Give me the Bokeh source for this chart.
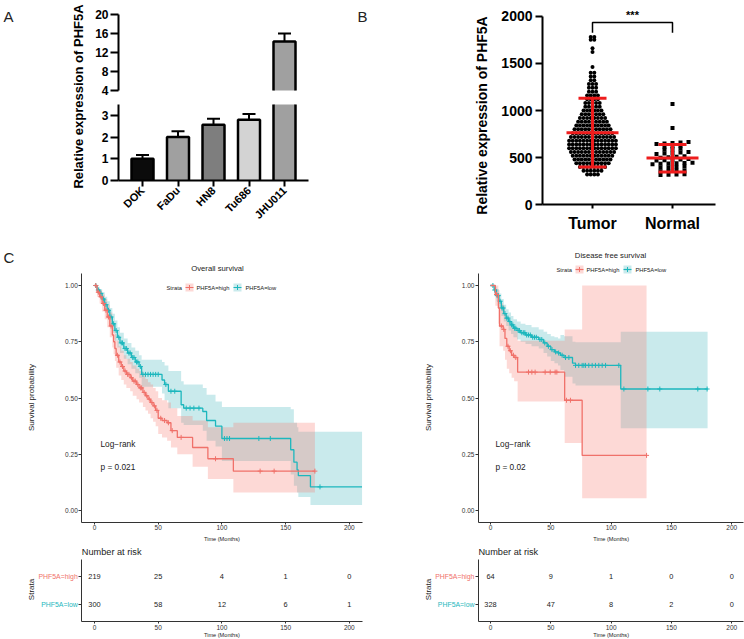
import numpy as np
from bokeh.plotting import figure
from bokeh.models import (FixedTicker, Range1d, CustomJSTickFormatter, NumeralTickFormatter)
from bokeh.layouts import row, column
from bokeh.embed import file_html
from bokeh.resources import INLINE
from bokeh.core.properties import value

FONT = "Liberation Sans"

# ======================= DATA =======================
# ---- Panel A: qPCR of PHF5A in cell lines ----
cell_lines = ["DOK", "FaDu", "HN8", "Tu686", "JHU011"]
rel_expr = [1.0, 2.0, 2.57, 2.8, 14.3]
rel_expr_sd = [0.18, 0.27, 0.28, 0.26, 1.7]
bar_fill = ["#0b0b0b", "#a0a0a0", "#7e7e7e", "#d3d3d3", "#a0a0a0"]
a_yticks = [0, 1, 2, 3, 4, 8, 12, 16, 20]

# ---- Panel B: expression, Tumor vs Normal ----
groups = ["Tumor", "Normal"]
tumor_levels = [320, 360, 400, 440, 480, 520, 560, 600, 640, 680, 720, 760, 800, 840,
                880, 920, 960, 1000, 1040, 1080, 1120, 1160, 1200, 1240, 1280, 1320,
                1360, 1400, 1460, 1620, 1660, 1750, 1780]
tumor_counts = [4, 6, 8, 10, 11, 12, 13, 14, 14, 14, 13, 12, 11, 10,
                9, 8, 7, 6, 5, 5, 4, 4, 3, 3, 3, 2,
                2, 2, 1, 1, 1, 2, 2]
tumor_mean, tumor_sd_low, tumor_sd_high = 765, 400, 1130
normal_values = [1070, 815, 665, 660, 655, 650, 645, 625, 620, 615, 595, 590, 585,
                 560, 555, 550, 545, 540, 515, 510, 505, 500, 485, 480, 478, 472, 470,
                 445, 442, 440, 438, 435, 430, 405, 400, 398, 395, 365, 362, 358, 355,
                 325, 322, 318, 315]
normal_mean, normal_sd_low, normal_sd_high = 495, 348, 640
b_yticks = [0, 500, 1000, 1500, 2000]
sig_label = "***"

# ---- Panel C: Kaplan-Meier, overall survival ----
os_high_t = [0, 2, 4, 6, 8, 10, 12, 14, 15, 16, 17, 19, 21, 23, 25, 28, 30, 33, 35, 38,
             40, 42, 44, 46, 48, 50, 53, 57, 60, 65, 77, 89, 109]
os_high_s = [1.0, 0.97, 0.95, 0.92, 0.89, 0.86, 0.82, 0.78, 0.75, 0.72, 0.69, 0.66, 0.64,
             0.62, 0.605, 0.59, 0.575, 0.56, 0.545, 0.525, 0.51, 0.495, 0.48, 0.465, 0.445,
             0.41, 0.40, 0.39, 0.355, 0.325, 0.28, 0.23, 0.175]
os_high_lo = [1.0, 0.95, 0.92, 0.885, 0.85, 0.815, 0.77, 0.725, 0.695, 0.665, 0.635, 0.60,
              0.58, 0.56, 0.545, 0.53, 0.51, 0.495, 0.48, 0.46, 0.445, 0.43, 0.41, 0.395,
              0.375, 0.34, 0.325, 0.31, 0.28, 0.25, 0.195, 0.14, 0.08]
os_high_up = [1.0, 0.99, 0.98, 0.96, 0.94, 0.915, 0.88, 0.84, 0.815, 0.785, 0.755, 0.73,
              0.71, 0.69, 0.675, 0.66, 0.645, 0.63, 0.62, 0.60, 0.585, 0.57, 0.56, 0.545,
              0.53, 0.50, 0.49, 0.48, 0.455, 0.42, 0.40, 0.37, 0.39]
os_high_end = 173
os_high_cens = [1, 3, 5, 7, 9, 11, 13, 18, 20, 22, 24, 26, 27, 29, 31, 32, 34, 36, 37, 39,
                41, 43, 45, 47, 49, 52, 55, 58, 61, 68, 95, 130, 141, 173]

os_low_t = [0, 2, 4, 6, 8, 10, 12, 14, 16, 18, 20, 23, 26, 29, 32, 35, 37, 53, 55, 58,
            68, 70, 85, 88, 95, 100, 154, 156.5, 159, 160, 169.5]
os_low_s = [1.0, 0.98, 0.965, 0.94, 0.915, 0.89, 0.86, 0.83, 0.80, 0.77, 0.745, 0.72, 0.70,
            0.68, 0.66, 0.64, 0.605, 0.58, 0.56, 0.53, 0.47, 0.455, 0.44, 0.40, 0.375, 0.32,
            0.27, 0.215, 0.18, 0.155, 0.105]
os_low_lo = [1.0, 0.965, 0.945, 0.915, 0.885, 0.855, 0.82, 0.79, 0.755, 0.725, 0.70, 0.675,
             0.65, 0.63, 0.61, 0.59, 0.55, 0.52, 0.49, 0.455, 0.39, 0.38, 0.355, 0.31, 0.285,
             0.22, 0.16, 0.11, 0.08, 0.06, 0.025]
os_low_up = [1.0, 0.995, 0.985, 0.97, 0.95, 0.93, 0.90, 0.875, 0.845, 0.815, 0.79, 0.765,
             0.745, 0.725, 0.71, 0.69, 0.67, 0.66, 0.645, 0.62, 0.575, 0.56, 0.545, 0.515,
             0.485, 0.46, 0.45, 0.39, 0.37, 0.35, 0.35]
os_low_end = 210
os_low_cens = [1, 3, 5, 7, 9, 11, 13, 15, 17, 19, 21, 22, 24, 25, 27, 28, 30, 31, 33, 34,
               36, 38, 40, 42, 44, 46, 48, 50, 56, 60, 63, 72, 75, 78, 82, 102, 104, 106,
               129, 138, 177]
os_pval = "p = 0.021"

# ---- Panel C: Kaplan-Meier, disease free survival ----
dfs_high_t = [0, 4, 6.5, 7.5, 10.5, 12, 13.5, 15.5, 17.5, 19.6, 22.5, 61.5, 76]
dfs_high_s = [1.0, 0.96, 0.90, 0.82, 0.805, 0.765, 0.73, 0.71, 0.69, 0.68, 0.615, 0.49, 0.245]
dfs_high_lo = [1.0, 0.91, 0.83, 0.73, 0.71, 0.67, 0.63, 0.61, 0.59, 0.575, 0.485, 0.30, 0.055]
dfs_high_up = [1.0, 1.0, 0.98, 0.92, 0.91, 0.875, 0.845, 0.83, 0.81, 0.80, 0.755, 0.805, 1.0]
dfs_high_end = 129.4
dfs_high_cens = [5, 9, 11, 14.5, 16.5, 19, 21, 31.5, 34.3, 37, 45.3, 49.5, 53.6, 55, 63,
                 66.3, 129.4]

dfs_low_t = [0, 3, 5, 7, 9, 11, 13, 15, 17, 19, 22, 25, 29, 34, 40, 44, 47, 50, 53, 56,
             58, 61, 68, 70.5, 108]
dfs_low_s = [1.0, 0.98, 0.955, 0.93, 0.90, 0.875, 0.855, 0.84, 0.825, 0.81, 0.80, 0.79,
             0.78, 0.77, 0.76, 0.745, 0.73, 0.715, 0.705, 0.70, 0.69, 0.68, 0.655, 0.645, 0.54]
dfs_low_lo = [1.0, 0.965, 0.93, 0.90, 0.865, 0.84, 0.82, 0.80, 0.785, 0.77, 0.76, 0.75,
              0.74, 0.73, 0.72, 0.70, 0.685, 0.665, 0.655, 0.645, 0.625, 0.595, 0.565,
              0.556, 0.366]
dfs_low_up = [1.0, 0.995, 0.985, 0.965, 0.94, 0.915, 0.895, 0.88, 0.865, 0.85, 0.84, 0.83,
              0.825, 0.815, 0.805, 0.795, 0.785, 0.775, 0.77, 0.765, 0.78, 0.775, 0.75,
              0.748, 0.795]
dfs_low_end = 180
dfs_low_cens = [2, 3.5, 5.5, 6.5, 8, 9.5, 10.5, 12, 13.5, 14.5, 16, 17.5, 18.5, 20, 21, 23,
                24, 26, 27.5, 28.5, 30, 31.5, 33, 35, 36.5, 38, 41, 42.5, 45, 48, 51, 54,
                56.5, 59.4, 62.2, 65, 70.5, 73.2, 76, 77.4, 78.8, 81.5, 84.3, 87, 89.8,
                92.6, 95.4, 106.4, 110.6, 130.5, 140.4, 171.9, 179.6]
dfs_pval = "p = 0.02"

# ---- Risk tables ----
risk_times = [0, 50, 100, 150, 200]
os_risk_high = [219, 25, 4, 1, 0]
os_risk_low = [300, 58, 12, 6, 1]
dfs_risk_high = [64, 9, 1, 0, 0]
dfs_risk_low = [328, 47, 8, 2, 0]
strata_names = ["PHF5A=high", "PHF5A=low"]

RED = "#F0716A"
CYAN = "#1DB7BD"
RED_BAND = "#F8766D"
CYAN_BAND = "#3CB4BC"
SD_RED = "#ee1c1c"
TXT = "#222222"


# ======================= HELPERS =======================
class Canvas:
    """Maps page pixels to data units; the frame covers the whole canvas."""

    def __init__(self, ox, oy, w, h, xref, xval, sx, yref, yval, sy):
        self.ox, self.oy, self.w, self.h, self.sx, self.sy = ox, oy, w, h, sx, sy
        self.x0 = xval - (xref - ox) / sx
        self.x1 = self.x0 + w / sx
        self.y1 = yval + (yref - oy) / sy
        self.y0 = self.y1 - h / sy

    def fx(self, ref):
        return self.x0 + (ref - self.ox) / self.sx

    def fy(self, ref):
        return self.y1 - (ref - self.oy) / self.sy

    def figure(self):
        p = figure(width=self.w, height=self.h, x_range=Range1d(self.x0, self.x1),
                   y_range=Range1d(self.y0, self.y1), min_border=0,
                   output_backend="svg", toolbar_location=None)
        p.xgrid.visible = False
        p.ygrid.visible = False
        p.outline_line_color = None
        p.background_fill_color = "white"
        p.border_fill_color = "white"
        return p


def put_text(p, x, y, txt, size, color=TXT, align="left", baseline="middle", bold=False,
             angle=0.0):
    p.text(x=[x], y=[y], text=[txt], text_font=value(FONT), text_font_size=f"{size}px",
           text_color=color, text_align=align, text_baseline=baseline,
           text_font_style="bold" if bold else "normal", angle=angle)


def style_axis(ax, line_w, tick_out, tick_w, standoff, size, bold, color):
    ax.axis_line_width = line_w
    ax.axis_line_color = color
    ax.major_tick_line_color = color
    ax.major_tick_line_width = tick_w
    ax.major_tick_in = 0
    ax.major_tick_out = tick_out
    ax.minor_tick_line_color = None
    ax.major_label_standoff = standoff
    ax.major_label_text_font = FONT
    ax.major_label_text_font_size = f"{size}px"
    ax.major_label_text_font_style = "bold" if bold else "normal"
    ax.major_label_text_color = color


# ======================= PANEL A =======================
cA = Canvas(0, 0, 378, 232, 142, 1.0, 35.5, 180, 0.0, 21.7)
BRK_LO, BRK_HI, BRK_GAP, BRK_SCALE = 3.5, 4.0, 0.645, 0.219


def ya(v):
    v = np.asarray(v, dtype=float)
    return np.where(v <= BRK_LO, v,
                    np.where(v >= BRK_HI, BRK_LO + BRK_GAP + (v - BRK_HI) * BRK_SCALE,
                             BRK_LO + BRK_GAP / 2))


pA = cA.figure()
bw = 22 / cA.sx
xs = np.arange(1, len(cell_lines) + 1)
q_l, q_r, q_b, q_t, fills = [], [], [], [], []
out_x, out_y = [], []
for xc, m, col in zip(xs, rel_expr, bar_fill):
    l, r = xc - bw / 2, xc + bw / 2
    if m <= BRK_LO:
        q_l.append(l); q_r.append(r); q_b.append(0); q_t.append(m); fills.append(col)
        out_x.append([l, l, r, r]); out_y.append([0, m, m, 0])
    else:
        y4, ym = float(ya(BRK_HI)), float(ya(m))
        q_l += [l, l]; q_r += [r, r]; q_b += [0, y4]; q_t += [BRK_LO, ym]
        fills += [col, col]
        out_x += [[l, l], [r, r], [l, l, r, r]]
        out_y += [[0, BRK_LO], [0, BRK_LO], [y4, ym, ym, y4]]
pA.quad(left=q_l, right=q_r, bottom=q_b, top=q_t, fill_color=fills, line_color=None)
pA.multi_line(xs=out_x, ys=out_y, line_color="black", line_width=2.5)

cap = 13 / cA.sx
top_v = ya(np.array(rel_expr))
err_v = ya(np.array(rel_expr) + np.array(rel_expr_sd))
pA.segment(x0=xs, y0=top_v, x1=xs, y1=err_v, line_color="black", line_width=2)
pA.segment(x0=xs - cap / 2, y0=err_v, x1=xs + cap / 2, y1=err_v, line_color="black",
           line_width=2)

a_axis_x = cA.fx(118)
pA.segment(x0=[a_axis_x, a_axis_x], y0=[0, float(ya(BRK_HI))], x1=[a_axis_x, a_axis_x],
           y1=[BRK_LO, float(ya(a_yticks[-1]))], line_color="black", line_width=2)

pA.yaxis.fixed_location = a_axis_x
pA.yaxis.bounds = (0, float(ya(a_yticks[-1])))
pA.yaxis.ticker = FixedTicker(ticks=[float(t) for t in ya(a_yticks)])
pA.yaxis.formatter = CustomJSTickFormatter(
    args=dict(lo=BRK_LO, hi=BRK_HI, gap=BRK_GAP, sc=BRK_SCALE),
    code="const v = tick <= lo + 1e-6 ? tick : hi + (tick - lo - gap) / sc;"
         "return Math.round(v).toString();")
style_axis(pA.yaxis, 2, 8, 2, 2, 12, True, "black")
pA.yaxis.axis_line_color = None

pA.xaxis.fixed_location = 0
pA.xaxis.bounds = (cA.fx(118), cA.fx(308))
pA.xaxis.ticker = FixedTicker(ticks=list(xs))
pA.xaxis.major_label_overrides = {int(i): n for i, n in zip(xs, cell_lines)}
pA.xaxis.major_label_orientation = np.pi / 4
style_axis(pA.xaxis, 2, 6, 2, 2, 11, True, "black")

put_text(pA, cA.fx(78), cA.fy(96), "Relative expression of PHF5A", 13, color="black",
         align="center", bold=True, angle=np.pi / 2)
put_text(pA, cA.fx(3), cA.fy(15.5), "A", 15)
put_text(pA, cA.fx(357), cA.fy(15.5), "B", 15)

# ======================= PANEL B =======================
cB = Canvas(378, 0, 366, 232, 592, 1.0, 80.0, 204.3, 0.0, 0.0943)
pB = cB.figure()

dxT = 3.6 / cB.sx
tx, ty = [], []
for lvl, n in zip(tumor_levels, tumor_counts):
    for i in range(n):
        tx.append(1 + (i - (n - 1) / 2) * dxT)
        ty.append(lvl)
pB.scatter(x=tx, y=ty, marker="circle", size=4, fill_color="black", line_color=None)

dxN = 8.0 / cB.sx
rows_n = []
for v in sorted(normal_values):
    if rows_n and v - rows_n[-1][0] < 25:
        rows_n[-1].append(v)
    else:
        rows_n.append([v])
nx, ny = [], []
for rw in rows_n:
    n = len(rw)
    for i, v in enumerate(rw):
        nx.append(2 + (i - (n - 1) / 2) * dxN)
        ny.append(v)
pB.scatter(x=nx, y=ny, marker="square", size=4, fill_color="black", line_color=None)

half_m = 26 / cB.sx
half_c = 14 / cB.sx
for xc, m, lo, hi in [(1, tumor_mean, tumor_sd_low, tumor_sd_high),
                      (2, normal_mean, normal_sd_low, normal_sd_high)]:
    pB.segment(x0=[xc - half_m, xc - half_c, xc - half_c, xc], y0=[m, lo, hi, lo],
               x1=[xc + half_m, xc + half_c, xc + half_c, xc], y1=[m, lo, hi, hi],
               line_color=SD_RED, line_width=3)

pB.line(x=[1, 1, 2, 2], y=[1824, 1933, 1933, 1824], line_color="black", line_width=1.5)
put_text(pB, 1.5, 2010, sig_label, 11, color="black", align="center", bold=True)

pB.yaxis.fixed_location = cB.fx(542)
pB.yaxis.bounds = (b_yticks[0], b_yticks[-1])
pB.yaxis.ticker = FixedTicker(ticks=b_yticks)
style_axis(pB.yaxis, 2, 7, 2, 3, 14, True, "black")
pB.xaxis.fixed_location = 0
pB.xaxis.bounds = (cB.fx(542), cB.fx(715))
pB.xaxis.ticker = FixedTicker(ticks=[1, 2])
pB.xaxis.major_label_overrides = {1: groups[0], 2: groups[1]}
style_axis(pB.xaxis, 2, 4, 2, 6, 16, True, "black")
put_text(pB, cB.fx(481), cB.fy(115), "Relative expression of PHF5A", 14, color="black",
         align="center", bold=True, angle=np.pi / 2)

# ======================= PANEL C =======================
KM_Y0, KM_Y1 = -0.053, 1.053


def step_lookup(t, s, tc):
    idx = np.searchsorted(np.asarray(t, float), np.asarray(tc, float), side="right") - 1
    return np.asarray(s, float)[idx]


def km_figure(cv, title, title_ref, legend_ref, legend_start, text_left, curves, pval,
              letter):
    p = cv.figure()
    for c in curves[::-1]:
        tt = list(c["t"]) + [c["end"]]
        p.varea_step(x=tt, y1=list(c["lo"]) + [c["lo"][-1]],
                     y2=list(c["up"]) + [c["up"][-1]], step_mode="after",
                     fill_color=c["band"], fill_alpha=0.28)
    for c in curves[::-1]:
        tt = list(c["t"]) + [c["end"]]
        ss = list(c["s"]) + [c["s"][-1]]
        p.step(x=tt, y=ss, mode="after", line_color=c["color"], line_width=1.3)
        cs = step_lookup(c["t"], c["s"], c["cens"])
        p.scatter(x=c["cens"], y=cs, marker="cross", size=5, line_color=c["color"],
                  line_width=1)

    put_text(p, cv.fx(title_ref[0]), cv.fy(title_ref[1]), title, 7.7, align="center")
    ly = cv.fy(legend_ref)
    put_text(p, cv.fx(legend_start), ly, "Strata", 5.8)
    for (k_off, t_off), c, name in zip([(23, 30), (71, 79)], curves, strata_names):
        kx = cv.fx(legend_start + k_off)
        p.rect(x=[kx], y=[ly], width=8, height=8, width_units="screen",
               height_units="screen", fill_color=c["band"], fill_alpha=0.28,
               line_color=None)
        p.segment(x0=[cv.fx(legend_start + k_off - 4)], y0=[ly],
                  x1=[cv.fx(legend_start + k_off + 4)], y1=[ly],
                  line_color=c["color"], line_width=1.2)
        p.scatter(x=[kx], y=[ly], marker="cross", size=5, line_color=c["color"],
                  line_width=1)
        put_text(p, cv.fx(legend_start + t_off), ly, name, 5.8)

    put_text(p, cv.fx(text_left), cv.fy(443), "Log\u2212rank", 8.3)
    put_text(p, cv.fx(text_left), cv.fy(466), pval, 8.3)

    p.yaxis.fixed_location = -10
    p.yaxis.bounds = (KM_Y0, KM_Y1)
    p.yaxis.ticker = FixedTicker(ticks=[0, 0.25, 0.5, 0.75, 1.0])
    p.yaxis.formatter = NumeralTickFormatter(format="0.00")
    style_axis(p.yaxis, 1, 3, 1, 1, 6.5, False, "#333333")
    p.xaxis.fixed_location = KM_Y0
    p.xaxis.bounds = (-10, 210)
    p.xaxis.ticker = FixedTicker(ticks=risk_times)
    style_axis(p.xaxis, 1, 2, 1, 1, 6.5, False, "#333333")

    axis_px = cv.ox + (-10 - cv.x0) * cv.sx
    put_text(p, cv.fx(axis_px - 50), cv.fy(397), "Survival probability", 8,
             align="center", angle=np.pi / 2)
    put_text(p, 100, cv.fy(538), "Time (Months)", 5.6, align="center")
    if letter:
        put_text(p, cv.fx(3), cv.fy(257), letter, 15)
    return p


def risk_figure(cv, high, low):
    p = cv.figure()
    xs_r = risk_times + risk_times
    ys_r = [2] * len(risk_times) + [1] * len(risk_times)
    txt = [str(v) for v in high] + [str(v) for v in low]
    p.text(x=xs_r, y=ys_r, text=txt, text_font=value(FONT), text_font_size="7.4px",
           text_align="center", text_baseline="middle", text_color=TXT)

    axis_px = cv.ox + (-10 - cv.x0) * cv.sx
    p.yaxis.fixed_location = -10
    p.yaxis.bounds = (cv.fy(621), cv.fy(559))
    p.yaxis.ticker = FixedTicker(ticks=[1, 2])
    p.yaxis.major_label_overrides = {1: "", 2: ""}
    style_axis(p.yaxis, 1, 3, 1, 1, 6.5, False, "#333333")
    p.xaxis.fixed_location = cv.fy(621)
    p.xaxis.bounds = (-10, 210)
    p.xaxis.ticker = FixedTicker(ticks=risk_times)
    style_axis(p.xaxis, 1, 2, 1, 1, 6.5, False, "#333333")

    for yv, name, col in [(2, strata_names[0], RED), (1, strata_names[1], CYAN)]:
        put_text(p, cv.fx(axis_px - 4), yv, name, 6.9, color=col, align="right")
    put_text(p, cv.fx(axis_px - 50), cv.fy(589), "Strata", 8, align="center",
             angle=np.pi / 2)
    put_text(p, cv.fx(axis_px), cv.fy(551), "Number at risk", 9.2)
    put_text(p, 100, cv.fy(634), "Time (Months)", 5.6, align="center")
    return p


os_curves = [
    dict(t=os_high_t, s=os_high_s, lo=os_high_lo, up=os_high_up, end=os_high_end,
         cens=os_high_cens, color=RED, band=RED_BAND),
    dict(t=os_low_t, s=os_low_s, lo=os_low_lo, up=os_low_up, end=os_low_end,
         cens=os_low_cens, color=CYAN, band=CYAN_BAND),
]
dfs_curves = [
    dict(t=dfs_high_t, s=dfs_high_s, lo=dfs_high_lo, up=dfs_high_up, end=dfs_high_end,
         cens=dfs_high_cens, color=RED, band=RED_BAND),
    dict(t=dfs_low_t, s=dfs_low_s, lo=dfs_low_lo, up=dfs_low_up, end=dfs_low_end,
         cens=dfs_low_cens, color=CYAN, band=CYAN_BAND),
]

cOS = Canvas(0, 232, 372, 310, 94, 0.0, 1.274, 510, 0.0, 225.0)
cDFS = Canvas(372, 232, 372, 310, 490, 0.0, 1.206, 510, 0.0, 225.0)
cROS = Canvas(0, 542, 372, 96, 94, 0.0, 1.274, 604, 1.0, 28.0)
cRDFS = Canvas(372, 542, 372, 96, 490, 0.0, 1.206, 604, 1.0, 28.0)

km_os = km_figure(cOS, "Overall survival", (217, 268), 287, 166, 100, os_curves, os_pval,
                  "C")
km_dfs = km_figure(cDFS, "Disease free survival", (610, 255), 269, 556, 495, dfs_curves,
                   dfs_pval, None)
risk_os = risk_figure(cROS, os_risk_high, os_risk_low)
risk_dfs = risk_figure(cRDFS, dfs_risk_high, dfs_risk_low)

layout = column(row(pA, pB), row(column(km_os, risk_os), column(km_dfs, risk_dfs)))

with open("out.html", "w") as f:
    f.write(file_html(layout, INLINE, title="PHF5A"))
